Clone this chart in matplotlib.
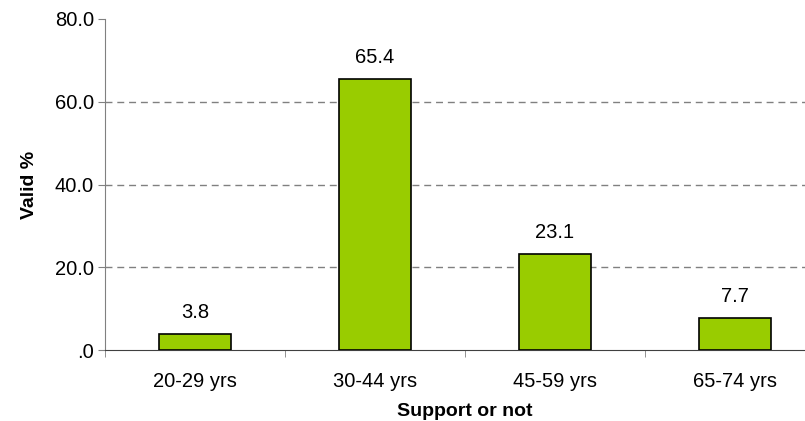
import matplotlib
matplotlib.use('Agg')
import matplotlib.pyplot as plt
import numpy as np

categories = ['20-29 yrs', '30-44 yrs', '45-59 yrs', '65-74 yrs']
valid_pct = [3.8, 65.4, 23.1, 7.7]
y_ticks = [0, 20, 40, 60, 80]
y_tick_labels = ['.0', '20.0', '40.0', '60.0', '80.0']

plt.rcParams['font.family'] = ['Liberation Sans', 'DejaVu Sans']

fig = plt.figure(figsize=(8.05, 4.21), dpi=100)
# plot area runs past the right edge, like the cropped original
ax = fig.add_axes([0.1304, 0.1686, 0.8944, 0.7863])

x = np.arange(len(categories))
ax.bar(x, valid_pct, width=0.405, color='#99cc00', edgecolor='black',
       linewidth=1.2, zorder=3)
for xi, v in zip(x, valid_pct):
    ax.annotate(f'{v:.1f}', (xi, v), xytext=(0, 15.5), textcoords='offset points',
                ha='center', va='center', fontsize=14.5)

ax.set_xlim(-0.5, len(categories) - 0.5)
ax.set_ylim(0, 80)
ax.set_yticks(y_ticks)
ax.set_yticklabels(y_tick_labels, fontsize=14.5)
ax.set_xticks(x)
ax.set_xticklabels(categories, fontsize=14.5)
ax.tick_params(axis='x', length=0, pad=16)
ax.set_xticks(np.arange(len(categories) + 1) - 0.5, minor=True)
ax.tick_params(axis='x', which='minor', length=5, color='#808080', direction='out')
ax.tick_params(axis='y', length=5, color='#808080', direction='out', pad=3)

for y in [20, 40, 60]:
    ax.axhline(y, color='#808080', linestyle=(0, (5, 3.5)), linewidth=1, zorder=1)

for side in ['top', 'right']:
    ax.spines[side].set_visible(False)
ax.spines['left'].set_color('#808080')
ax.spines['bottom'].set_color('#404040')

ax.set_ylabel('Valid %', fontsize=14, fontweight='bold', labelpad=12)
ax.set_xlabel('Support or not', fontsize=14, fontweight='bold', labelpad=8.5)

fig.savefig('out.png', dpi=100)
